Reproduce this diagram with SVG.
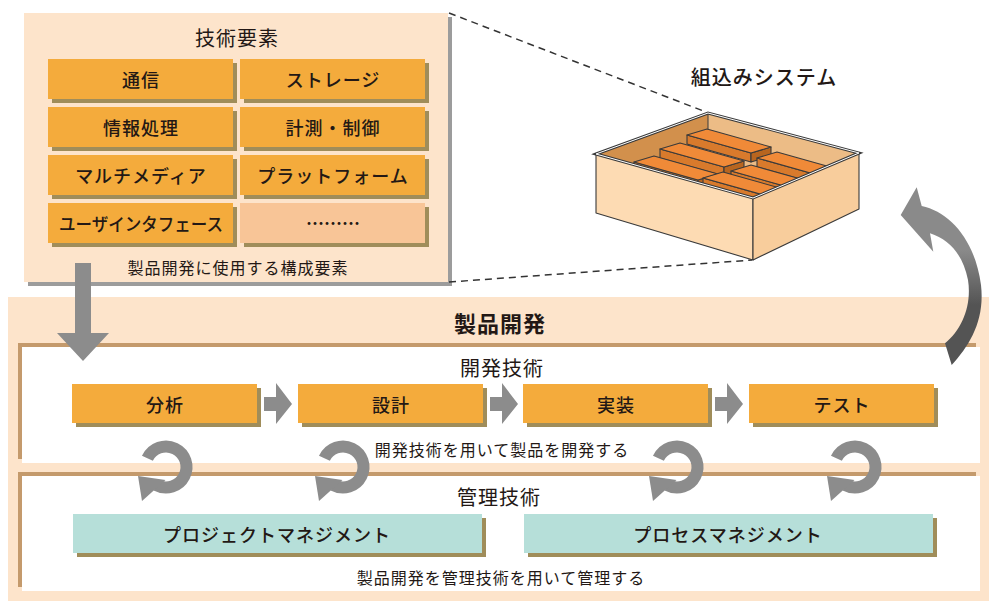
<svg xmlns="http://www.w3.org/2000/svg" width="989" height="601" viewBox="0 0 989 601">
  <defs>
    <style>
      .t { font-family: 'Noto Sans CJK JP', 'Noto Sans CJK SC', sans-serif; fill: #231815; text-anchor: middle; dominant-baseline: central; }
      .lbl { font-size: 18px; font-weight: 500; letter-spacing: 1px; }
      .cap { font-size: 16px; letter-spacing: 1px; }
      .head { font-size: 20px; letter-spacing: 1px; }
      .peach { fill: #fde4cb; }
      .orange { fill: #f4ab3c; }
      .teal { fill: #b6dfd9; }
      .shadow { fill: #a08d5a; }
      .brown { fill: #c49a6c; }
      .gray { fill: #8c8c8c; }
      .edge { stroke: #3a3a3a; stroke-width: 1.1; stroke-linejoin: round; }
      .dash { fill: none; stroke: #333; stroke-width: 1.5; stroke-dasharray: 7 5; }
    </style>
    <linearGradient id="bigArrowFill" gradientUnits="userSpaceOnUse" x1="0" y1="250" x2="0" y2="305">
      <stop offset="0" stop-color="#8a8a8a"/>
      <stop offset="1" stop-color="#545454"/>
    </linearGradient>
    <clipPath id="opening">
      <polygon points="596,154 708,113 859,153 753,198"/>
    </clipPath>
    <!-- circular "loop" arrow, centred on 0,0 -->
    <g id="loop">
      <path d="M -18.6 -8.7 A 20.5 20.5 0 1 1 -9.6 18.1" fill="none" stroke="#8c8c8c" stroke-width="12"/>
      <polygon points="-28,9 -0.5,13 -24,34" fill="#8c8c8c"/>
    </g>
  </defs>

  <rect width="989" height="601" fill="#ffffff"/>

  <!-- technical elements panel -->
  <g id="tech-elements">
    <rect x="28" y="17" width="424" height="269" fill="#9c9c9c"/>
    <rect x="24" y="13" width="424" height="269" class="peach"/>
    <text class="t head" x="237" y="37">技術要素</text>

    <g id="te-comm">
      <rect x="52" y="63" width="185" height="40" class="shadow"/>
      <rect x="48" y="59" width="185" height="40" class="orange"/>
      <text class="t lbl" x="141" y="79">通信</text>
    </g>
    <g id="te-storage">
      <rect x="244" y="63" width="185" height="40" class="shadow"/>
      <rect x="240" y="59" width="185" height="40" class="orange"/>
      <text class="t lbl" x="333" y="79">ストレージ</text>
    </g>
    <g id="te-info">
      <rect x="52" y="111" width="185" height="40" class="shadow"/>
      <rect x="48" y="107" width="185" height="40" class="orange"/>
      <text class="t lbl" x="141" y="127">情報処理</text>
    </g>
    <g id="te-measure">
      <rect x="244" y="111" width="185" height="40" class="shadow"/>
      <rect x="240" y="107" width="185" height="40" class="orange"/>
      <text class="t lbl" x="333" y="127">計測・制御</text>
    </g>
    <g id="te-multimedia">
      <rect x="52" y="159" width="185" height="40" class="shadow"/>
      <rect x="48" y="155" width="185" height="40" class="orange"/>
      <text class="t lbl" x="141" y="175">マルチメディア</text>
    </g>
    <g id="te-platform">
      <rect x="244" y="159" width="185" height="40" class="shadow"/>
      <rect x="240" y="155" width="185" height="40" class="orange"/>
      <text class="t lbl" x="333" y="175">プラットフォーム</text>
    </g>
    <g id="te-ui">
      <rect x="52" y="207" width="185" height="40" class="shadow"/>
      <rect x="48" y="203" width="185" height="40" class="orange"/>
      <text class="t lbl" x="141" y="223" textLength="164" lengthAdjust="spacingAndGlyphs" style="letter-spacing:0">ユーザインタフェース</text>
    </g>
    <g id="te-more">
      <rect x="244" y="207" width="185" height="40" class="shadow"/>
      <rect x="240" y="203" width="185" height="40" fill="#f8c597"/>
      <text class="t" x="333" y="222" style="font-size:18px;font-weight:700">………</text>
    </g>
    <text class="t cap" x="238" y="267">製品開発に使用する構成要素</text>
  </g>

  <!-- zoom lines from the panel to the embedded system -->
  <g id="zoom-lines">
    <line x1="449" y1="13" x2="706" y2="112" class="dash"/>
    <line x1="449" y1="282" x2="752" y2="260" class="dash"/>
  </g>

  <!-- embedded system box -->
  <g id="embedded-system">
    <text class="t head" x="764" y="76" style="font-weight:500">組込みシステム</text>
    <g clip-path="url(#opening)">
      <rect x="590" y="110" width="275" height="95" fill="#ecbc86"/>
      <polygon points="596,154 708,113 708,200 596,240" fill="#d2904c"/>
      <line x1="708" y1="113" x2="708" y2="135" stroke="#3a3a3a" stroke-width="1"/>
      <!-- back row -->
      <g class="edge">
        <polygon points="687,144 751,162 751,153 687,135" fill="#d87a2c"/>
        <polygon points="751,153 771,147 771,156 751,162" fill="#b8651f"/>
        <polygon points="687,135 751,153 771,147 707,129" fill="#f08a38"/>
      </g>
      <g class="edge">
        <polygon points="757,167 821,185 821,176 757,158" fill="#d87a2c"/>
        <polygon points="821,176 841,170 841,179 821,185" fill="#b8651f"/>
        <polygon points="757,158 821,176 841,170 777,152" fill="#f08a38"/>
      </g>
      <!-- middle row -->
      <g class="edge">
        <polygon points="660,158 724,176 724,167 660,149" fill="#d87a2c"/>
        <polygon points="724,167 744,161 744,170 724,176" fill="#b8651f"/>
        <polygon points="660,149 724,167 744,161 680,143" fill="#f08a38"/>
      </g>
      <g class="edge">
        <polygon points="731,180 795,198 795,189 731,171" fill="#d87a2c"/>
        <polygon points="795,189 815,183 815,192 795,198" fill="#b8651f"/>
        <polygon points="731,171 795,189 815,183 751,165" fill="#f08a38"/>
      </g>
      <!-- front row -->
      <g class="edge">
        <polygon points="634,171 698,189 698,180 634,162" fill="#d87a2c"/>
        <polygon points="698,180 718,174 718,183 698,189" fill="#b8651f"/>
        <polygon points="634,162 698,180 718,174 654,156" fill="#f08a38"/>
      </g>
      <g class="edge">
        <polygon points="703,187 767,205 767,196 703,178" fill="#d87a2c"/>
        <polygon points="703,178 767,196 787,190 723,172" fill="#f08a38"/>
      </g>
    </g>
    <polygon points="596,154 753,198 753,260 596,213" fill="#fddbb3" class="edge"/>
    <polygon points="753,198 859,153 859,209 753,260" fill="#f8cd9c" class="edge"/>
    <polygon points="596,154 708,113 859,153 753,198" fill="none" stroke="#3a3a3a" stroke-width="3"/>
    <polygon points="596,154 708,113 859,153 753,198" fill="none" stroke="#ffffff" stroke-width="1"/>
  </g>

  <!-- product development -->
  <g id="product-dev">
    <rect x="8" y="297" width="981" height="304" class="peach"/>
    <text class="t" x="500" y="322" style="font-size:22px;font-weight:700;letter-spacing:1px">製品開発</text>
  </g>

  <g id="dev-tech">
    <rect x="18" y="343" width="958" height="116" class="brown"/>
    <rect x="22" y="347" width="958" height="116" fill="#ffffff"/>
    <text class="t head" x="502" y="367">開発技術</text>
    <text class="t cap" x="502" y="449">開発技術を用いて製品を開発する</text>
  </g>

  <g id="step-analysis">
    <rect x="76" y="388" width="185" height="39" class="shadow"/>
    <rect x="72" y="384" width="185" height="39" class="orange"/>
    <text class="t lbl" x="165" y="404">分析</text>
  </g>
  <g id="step-design">
    <rect x="302" y="388" width="185" height="39" class="shadow"/>
    <rect x="298" y="384" width="185" height="39" class="orange"/>
    <text class="t lbl" x="391" y="404">設計</text>
  </g>
  <g id="step-impl">
    <rect x="527" y="388" width="185" height="39" class="shadow"/>
    <rect x="523" y="384" width="185" height="39" class="orange"/>
    <text class="t lbl" x="616" y="404">実装</text>
  </g>
  <g id="step-test">
    <rect x="753" y="388" width="185" height="39" class="shadow"/>
    <rect x="749" y="384" width="185" height="39" class="orange"/>
    <text class="t lbl" x="842" y="404">テスト</text>
  </g>

  <g id="mgmt-tech">
    <rect x="18" y="472" width="958" height="115" class="brown"/>
    <rect x="22" y="476" width="958" height="115" fill="#ffffff"/>
    <text class="t head" x="499" y="496">管理技術</text>
    <text class="t cap" x="501" y="577">製品開発を管理技術を用いて管理する</text>
  </g>

  <g id="project-mgmt">
    <rect x="77" y="518" width="409" height="39" class="shadow"/>
    <rect x="73" y="514" width="409" height="39" class="teal"/>
    <text class="t lbl" x="277" y="534">プロジェクトマネジメント</text>
  </g>
  <g id="process-mgmt">
    <rect x="528" y="518" width="409" height="39" class="shadow"/>
    <rect x="524" y="514" width="409" height="39" class="teal"/>
    <text class="t lbl" x="728" y="534">プロセスマネジメント</text>
  </g>

  <!-- connectors -->
  <g id="connectors">
    <!-- input from the technical elements -->
    <polygon points="75,263 91,263 91,333 109,333 83,361 57,333 75,333" class="gray"/>
    <!-- process flow -->
    <polygon points="264,397 276,397 276,383 292,404 276,424 276,411 264,411" class="gray"/>
    <polygon points="490,397 502,397 502,383 518,404 502,424 502,411 490,411" class="gray"/>
    <polygon points="715,397 727,397 727,383 743,404 727,424 727,411 715,411" class="gray"/>
    <!-- management loops -->
    <use href="#loop" x="166" y="467"/>
    <use href="#loop" x="343" y="467"/>
    <use href="#loop" x="677" y="467"/>
    <use href="#loop" x="855" y="467"/>
    <!-- output to the embedded system -->
    <path d="M 916.7 187.3 L 921.7 206 C 950 212, 975 240, 981 285 C 985 320, 970 345, 951.7 365 L 945 343.3 C 962 330, 972 305, 968 280 C 963 255, 950 240, 930 233.3 L 933.3 251.7 L 900.7 215 Z" fill="url(#bigArrowFill)"/>
  </g>
</svg>
